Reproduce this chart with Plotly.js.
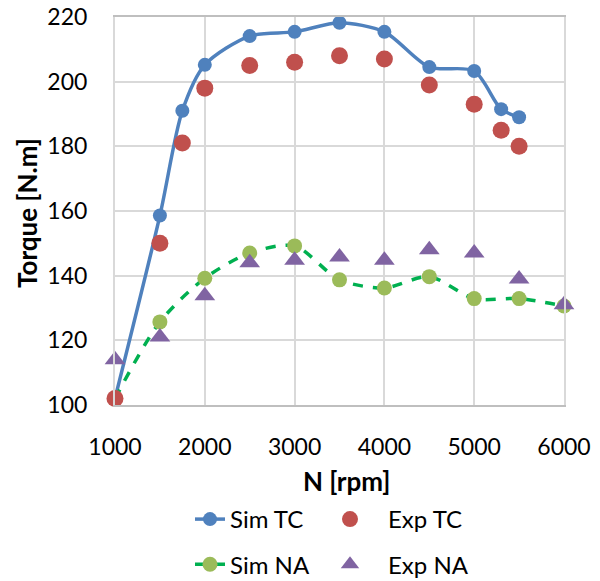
<!DOCTYPE html>
<html><head><meta charset="utf-8">
<script src="https://cdn.plot.ly/plotly-3.0.1.min.js"></script>
<style>body{margin:0;padding:0;background:#fff}#chart{width:600px;height:581px}</style>
</head><body><div id="chart"></div>
<script>
var rpmSimTC = [1000, 1500, 1750, 2000, 2500, 3000, 3500, 4000, 4500, 5000, 5300, 5500];
var torqueSimTC = [102, 158.6, 191, 205.2, 214.1, 215.4, 218.2, 215.4, 204.5, 203.3, 191.5, 189];
var rpmExpTC = [1000, 1500, 1750, 2000, 2500, 3000, 3500, 4000, 4500, 5000, 5300, 5500];
var torqueExpTC = [102, 150, 181, 198, 205, 206, 208, 207, 199, 193, 185, 180];
var rpmSimNA = [1000, 1500, 2000, 2500, 3000, 3500, 4000, 4500, 5000, 5500, 6000];
var torqueSimNA = [102, 125.7, 139.2, 147, 149.2, 138.7, 136.2, 139.7, 132.9, 132.9, 130.6];
var rpmExpNA = [1000, 1500, 2000, 2500, 3000, 3500, 4000, 4500, 5000, 5500, 6000];
var torqueExpNA = [114, 121, 133.8, 144, 144.8, 145.8, 144.8, 148, 147, 139, 131];
var xTicks = [1000, 2000, 3000, 4000, 5000, 6000];
var yTicks = [100, 120, 140, 160, 180, 200, 220];

var font = 'Lato, "Open Sans", sans-serif';
var traces = [
  {x: rpmSimTC, y: torqueSimTC, name: 'Sim TC', mode: 'lines+markers', type: 'scatter',
   line: {color: '#4F81BD', width: 3.5, shape: 'spline', smoothing: 0.8},
   marker: {color: '#4F81BD', size: 14, symbol: 'circle'}, cliponaxis: false, legend: 'legend', legendgroup: 'a'},
  {x: rpmSimNA, y: torqueSimNA, name: 'Sim NA', mode: 'lines+markers', type: 'scatter',
   line: {color: '#00B050', width: 3.5, dash: '10px,10px', shape: 'spline', smoothing: 0.8},
   marker: {color: '#9BBB59', size: 15, symbol: 'circle'}, cliponaxis: false, legend: 'legend', legendgroup: 'c'},
  {x: rpmExpTC, y: torqueExpTC, name: 'Exp TC', mode: 'markers', type: 'scatter',
   marker: {color: '#C0504D', size: 17, symbol: 'circle'}, cliponaxis: false, legend: 'legend2', legendgroup: 'b'},
  {x: rpmExpNA, y: torqueExpNA, name: 'Exp NA', mode: 'markers', type: 'scatter',
   marker: {color: '#8064A2', size: 18, symbol: 'triangle-up'}, cliponaxis: false, legend: 'legend2', legendgroup: 'd'}
];

var layout = {
  width: 600, height: 581,
  margin: {l: 115, r: 36, t: 17, b: 176, autoexpand: false},
  paper_bgcolor: '#fff', plot_bgcolor: '#fff',
  font: {family: font, size: 23, color: '#000'},
  xaxis: {
    range: [1000, 6000], tickvals: xTicks, ticktext: xTicks.map(String),
    showgrid: true, gridcolor: '#D9D9D9', gridwidth: 2,
    showline: true, linecolor: '#BFBFBF', linewidth: 2, mirror: true,
    zeroline: false, ticks: 'outside', ticklen: 20, tickcolor: 'rgba(0,0,0,0)',
    tickfont: {family: font, size: 23}
  },
  yaxis: {
    range: [100, 220], tickvals: yTicks, ticktext: yTicks.map(String),
    showgrid: true, gridcolor: '#D9D9D9', gridwidth: 2,
    showline: true, linecolor: '#D9D9D9', linewidth: 2, mirror: true,
    zeroline: false, ticks: 'outside', ticklen: 21, tickcolor: 'rgba(0,0,0,0)',
    tickfont: {family: font, size: 23}
  },
  annotations: [{
    text: '<b>Torque [N.m]</b>', xref: 'paper', yref: 'paper', x: (27 - 115) / 449, y: (405 - 213) / 388,
    xanchor: 'center', yanchor: 'middle', textangle: -90, showarrow: false,
    font: {family: font, size: 26, color: '#000'}
  }, {
    text: '<b>N [rpm]</b>', xref: 'paper', yref: 'paper', x: (347 - 115) / 449, y: (405 - 481) / 388,
    xanchor: 'center', yanchor: 'middle', showarrow: false,
    font: {family: font, size: 26, color: '#000'}
  }],
  legend: {x: 190/600, xref: 'container', y: 1 - 497/581, yref: 'container', xanchor: 'left', yanchor: 'top',
           orientation: 'v', tracegroupgap: 11, font: {family: font, size: 24},
           bgcolor: 'rgba(0,0,0,0)', traceorder: 'grouped'},
  legend2: {x: 312/600, xref: 'container', y: 1 - 497/581, yref: 'container', xanchor: 'left', yanchor: 'top',
           orientation: 'v', tracegroupgap: 11, itemwidth: 66, font: {family: font, size: 24},
           bgcolor: 'rgba(0,0,0,0)', traceorder: 'grouped'},
  showlegend: true
};
Plotly.newPlot('chart', traces, layout, {displayModeBar: false, staticPlot: true});
</script></body></html>
